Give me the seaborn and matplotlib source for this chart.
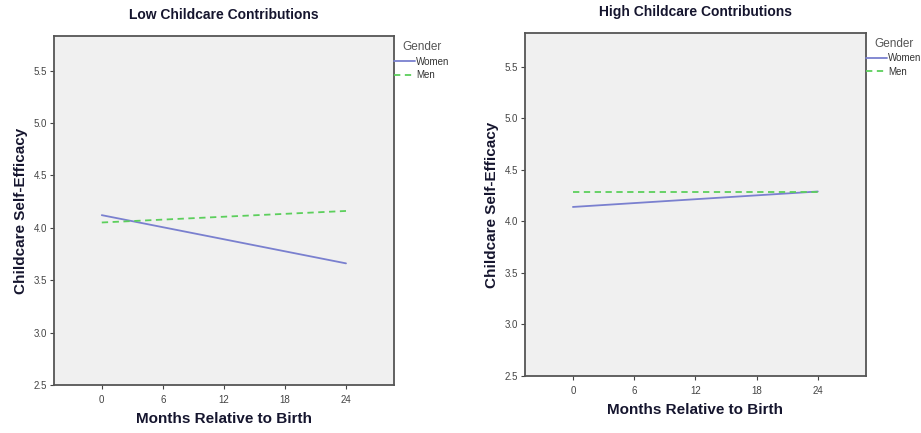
import pandas as pd
import numpy as np
import seaborn as sns
import matplotlib.pyplot as plt

months = [0, 24]
genders = ['Women', 'Men']
# predicted self-efficacy at 0 and 24 months
low_women = [4.12, 3.66]
low_men = [4.05, 4.16]
high_women = [4.14, 4.29]
high_men = [4.29, 4.29]

titles = ['Low Childcare Contributions', 'High Childcare Contributions']
yticks = [2.5, 3.0, 3.5, 4.0, 4.5, 5.0, 5.5]
xticks = [0, 6, 12, 18, 24]

def make_df(women, men):
    return pd.DataFrame({
        'Months': months * 2,
        'Efficacy': women + men,
        'Gender': ['Women'] * len(months) + ['Men'] * len(months),
    })

sns.set_style('ticks')
plt.rcParams['font.family'] = ['Liberation Sans', 'DejaVu Sans']

fig = plt.figure(figsize=(9.21, 4.33), dpi=100)
ax1 = fig.add_axes([0.0586, 0.111, 0.369, 0.806])
ax2 = fig.add_axes([0.570, 0.132, 0.370, 0.792])

palette = {'Women': '#7a80cf', 'Men': '#5ccf5c'}
dashes = {'Women': '', 'Men': (3.5, 2.5)}
txt = '#15152e'

for ax, title, (w, m) in zip([ax1, ax2], titles,
                             [(low_women, low_men), (high_women, high_men)]):
    df = make_df(w, m)
    sns.lineplot(data=df, x='Months', y='Efficacy', hue='Gender', style='Gender',
                 hue_order=genders, style_order=genders, palette=palette,
                 dashes=dashes, linewidth=1.3, ax=ax)
    ax.set_facecolor('#f0f0f0')
    ax.set_xlim(-4.7, 28.7)
    ax.set_ylim(2.5, 5.83)
    ax.set_xticks(xticks)
    ax.set_yticks(yticks)
    ax.set_yticklabels([f'{t:.1f}' for t in yticks])
    ax.tick_params(axis='both', labelsize=7, colors='#444444', length=3,
                   width=0.8, direction='out', pad=2, bottom=True, left=True)
    ax.tick_params(axis='x', pad=4)
    for s in ax.spines.values():
        s.set_visible(True)
        s.set_color('#555555')
        s.set_linewidth(1.3)
    ax.set_title(title, fontsize=10, fontweight='bold', color=txt, pad=12)
    ax.set_xlabel('Months Relative to Birth', fontsize=11, fontweight='bold',
                  color=txt, labelpad=5)
    ax.set_ylabel('Childcare Self-Efficacy', fontsize=11, fontweight='bold',
                  color=txt, labelpad=4)
    leg = ax.legend(title='Gender', loc='upper left', bbox_to_anchor=(1.0, 0.985),
                    frameon=False, fontsize=7, title_fontsize=8.5,
                    handlelength=2.2, handletextpad=0.1, borderaxespad=0,
                    labelspacing=0.35, borderpad=0)
    leg.get_title().set_color('#555555')
    for t in leg.get_texts():
        t.set_color('#333333')

fig.savefig('out.png', dpi=100)
